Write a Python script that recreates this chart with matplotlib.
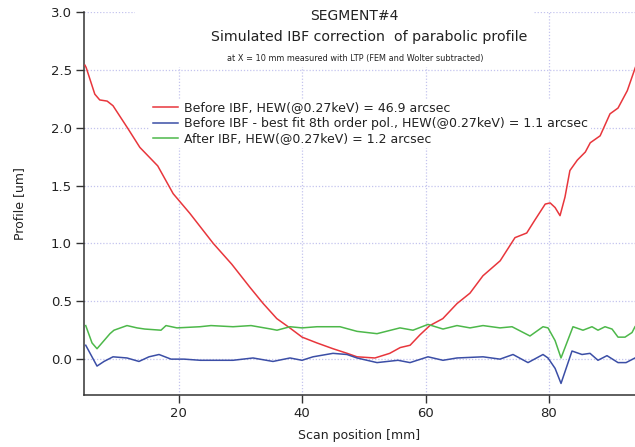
import matplotlib
matplotlib.use("Agg")
import matplotlib.pyplot as plt
from matplotlib.patches import Rectangle

plt.rcParams['font.family'] = ['DejaVu Sans']

# ---- data ----
red_x = [4.81, 5.0, 6.4, 7.2, 8.4, 9.35, 11.8, 13.7, 16.6, 19.1, 21.8, 25.6, 28.6, 31.55,
         33.7, 35.9, 38.0, 40.0, 42.4, 45.0, 47.3, 48.9, 51.8, 54.2, 55.9, 57.5, 59.1,
         60.7, 62.8, 65.1, 67.2, 69.3, 72.1, 74.5, 76.4, 77.7, 79.4, 80.2, 81.0, 81.8,
         82.6, 83.4, 84.6, 85.9, 86.7, 88.3, 89.9, 91.2, 92.7, 94.0]
red_y = [2.54, 2.52, 2.29, 2.24, 2.23, 2.19, 1.99, 1.83, 1.67, 1.43, 1.26, 1.0, 0.82, 0.62,
         0.48, 0.35, 0.27, 0.19, 0.14, 0.09, 0.05, 0.02, 0.01, 0.05, 0.10, 0.12, 0.21,
         0.29, 0.35, 0.48, 0.57, 0.72, 0.85, 1.05, 1.09, 1.2, 1.34, 1.35, 1.31, 1.24,
         1.4, 1.63, 1.72, 1.79, 1.87, 1.93, 2.12, 2.17, 2.32, 2.52]

green_x = [4.93, 5.95, 6.76, 7.89, 8.86, 9.51, 11.62, 13.24, 14.5, 17.13, 17.94, 19.72,
           23.45, 25.23, 28.8, 31.72, 34.96, 35.93, 38.04, 39.98, 42.41, 46.14, 48.9,
           52.14, 55.86, 57.97, 60.4, 62.83, 65.1, 67.21, 69.32, 72.07, 74.02, 76.93,
           79.04, 79.85, 81.0, 81.96, 83.9, 85.52, 86.98, 87.95, 89.09, 90.23, 91.2,
           92.33, 93.47, 93.95]
green_y = [0.29, 0.14, 0.09, 0.16, 0.22, 0.25, 0.29, 0.27, 0.26, 0.25, 0.29, 0.27,
           0.28, 0.29, 0.28, 0.29, 0.26, 0.25, 0.28, 0.27, 0.28, 0.28, 0.24,
           0.22, 0.27, 0.25, 0.30, 0.26, 0.29, 0.27, 0.29, 0.27, 0.28, 0.20,
           0.28, 0.27, 0.16, 0.01, 0.28, 0.25, 0.28, 0.25, 0.28, 0.26, 0.19,
           0.19, 0.23, 0.28]

blue_x = [4.93, 6.76, 7.89, 9.35, 11.62, 13.56, 15.18, 16.81, 18.75, 20.86, 23.5, 26.2,
          28.8, 32.04, 35.28, 38.04, 39.98, 41.76, 45.0, 47.27, 48.9, 52.14, 55.54,
          57.49, 60.4, 62.83, 65.1, 69.32, 72.07, 74.18, 76.61, 79.04, 79.85, 81.0,
          81.96, 83.74, 85.36, 86.66, 87.95, 89.41, 91.2, 92.5, 93.95]
blue_y = [0.12, -0.06, -0.02, 0.02, 0.01, -0.02, 0.02, 0.04, 0.0, 0.0, -0.01, -0.01,
          -0.01, 0.01, -0.02, 0.01, -0.01, 0.02, 0.05, 0.04, 0.01, -0.03, -0.01,
          -0.03, 0.02, -0.01, 0.01, 0.02, 0.0, 0.04, -0.03, 0.04, 0.01, -0.08,
          -0.21, 0.07, 0.04, 0.05, -0.01, 0.03, -0.03, -0.03, 0.01]

labels = ["Before IBF, HEW(@0.27keV) = 46.9 arcsec",
          "Before IBF - best fit 8th order pol., HEW(@0.27keV) = 1.1 arcsec",
          "After IBF, HEW(@0.27keV) = 1.2 arcsec"]
x_ticks = [20, 40, 60, 80]
y_ticks = [0.0, 0.5, 1.0, 1.5, 2.0, 2.5, 3.0]

RED, BLUE, GREEN = '#e8363c', '#3b4ea6', '#4db84a'
TXT = '#222222'

fig = plt.figure(figsize=(6.35, 4.47), dpi=100)
ax = fig.add_axes([84/635, 1 - 395/447, 1 - 84/635, (395 - 12)/447])

ax.plot(red_x, red_y, color=RED, lw=1.1, label=labels[0], zorder=3)
ax.plot(blue_x, blue_y, color=BLUE, lw=1.1, label=labels[1], zorder=3)
ax.plot(green_x, green_y, color=GREEN, lw=1.1, label=labels[2], zorder=3)

ax.set_xlim(4.65, 93.95)
ax.set_ylim(-0.31, 3.0)
ax.set_xticks(x_ticks)
ax.set_yticks(y_ticks)
ax.set_yticklabels([f"{v:.1f}" for v in y_ticks])
ax.set_axisbelow(True)
ax.grid(True, linestyle=(0, (1, 1.5)), color='#c4c4ee', lw=0.9)
for s in ['top', 'right']:
    ax.spines[s].set_visible(False)
for s in ['left', 'bottom']:
    ax.spines[s].set_color('#333333')
    ax.spines[s].set_linewidth(1.1)
ax.tick_params(direction='out', length=5.8, width=1.0, color='#333333',
               labelsize=9.5, labelcolor=TXT, pad=3)
ax.set_xlabel("Scan position [mm]", fontsize=9, color=TXT, labelpad=6)
ax.set_ylabel("Profile [um]", fontsize=9, color=TXT, labelpad=18)

# white box behind title (masks grid like the reference)
ax.add_patch(Rectangle((135/635, 1 - 67/447), (533 - 135)/635, 67/447,
                       transform=fig.transFigure, facecolor='white', edgecolor='none',
                       zorder=1.5))

fig.text(354/635, 1 - 16/447, "SEGMENT#4", ha='center', va='center', fontsize=10, color=TXT)
fig.text(369/635, 1 - 37/447, "Simulated IBF correction  of parabolic profile",
         ha='center', va='center', fontsize=10.2, color=TXT)
fig.text(355/635, 1 - 59/447,
         "at X = 10 mm measured with LTP (FEM and Wolter subtracted)",
         ha='center', va='center', fontsize=5.9, color=TXT)

leg = ax.legend(loc='upper left', bbox_to_anchor=(150/635, 1 - 99/447),
                bbox_transform=fig.transFigure, frameon=True, fancybox=False,
                fontsize=9.0, handlelength=2.0, handletextpad=0.55,
                labelspacing=0.2, borderpad=0.2, borderaxespad=0)
leg.get_frame().set_facecolor('white')
leg.get_frame().set_edgecolor('none')
leg.get_frame().set_alpha(1)
leg.set_zorder(2.5)
for t in leg.get_texts():
    t.set_color(TXT)

fig.savefig("out.png", dpi=100)
